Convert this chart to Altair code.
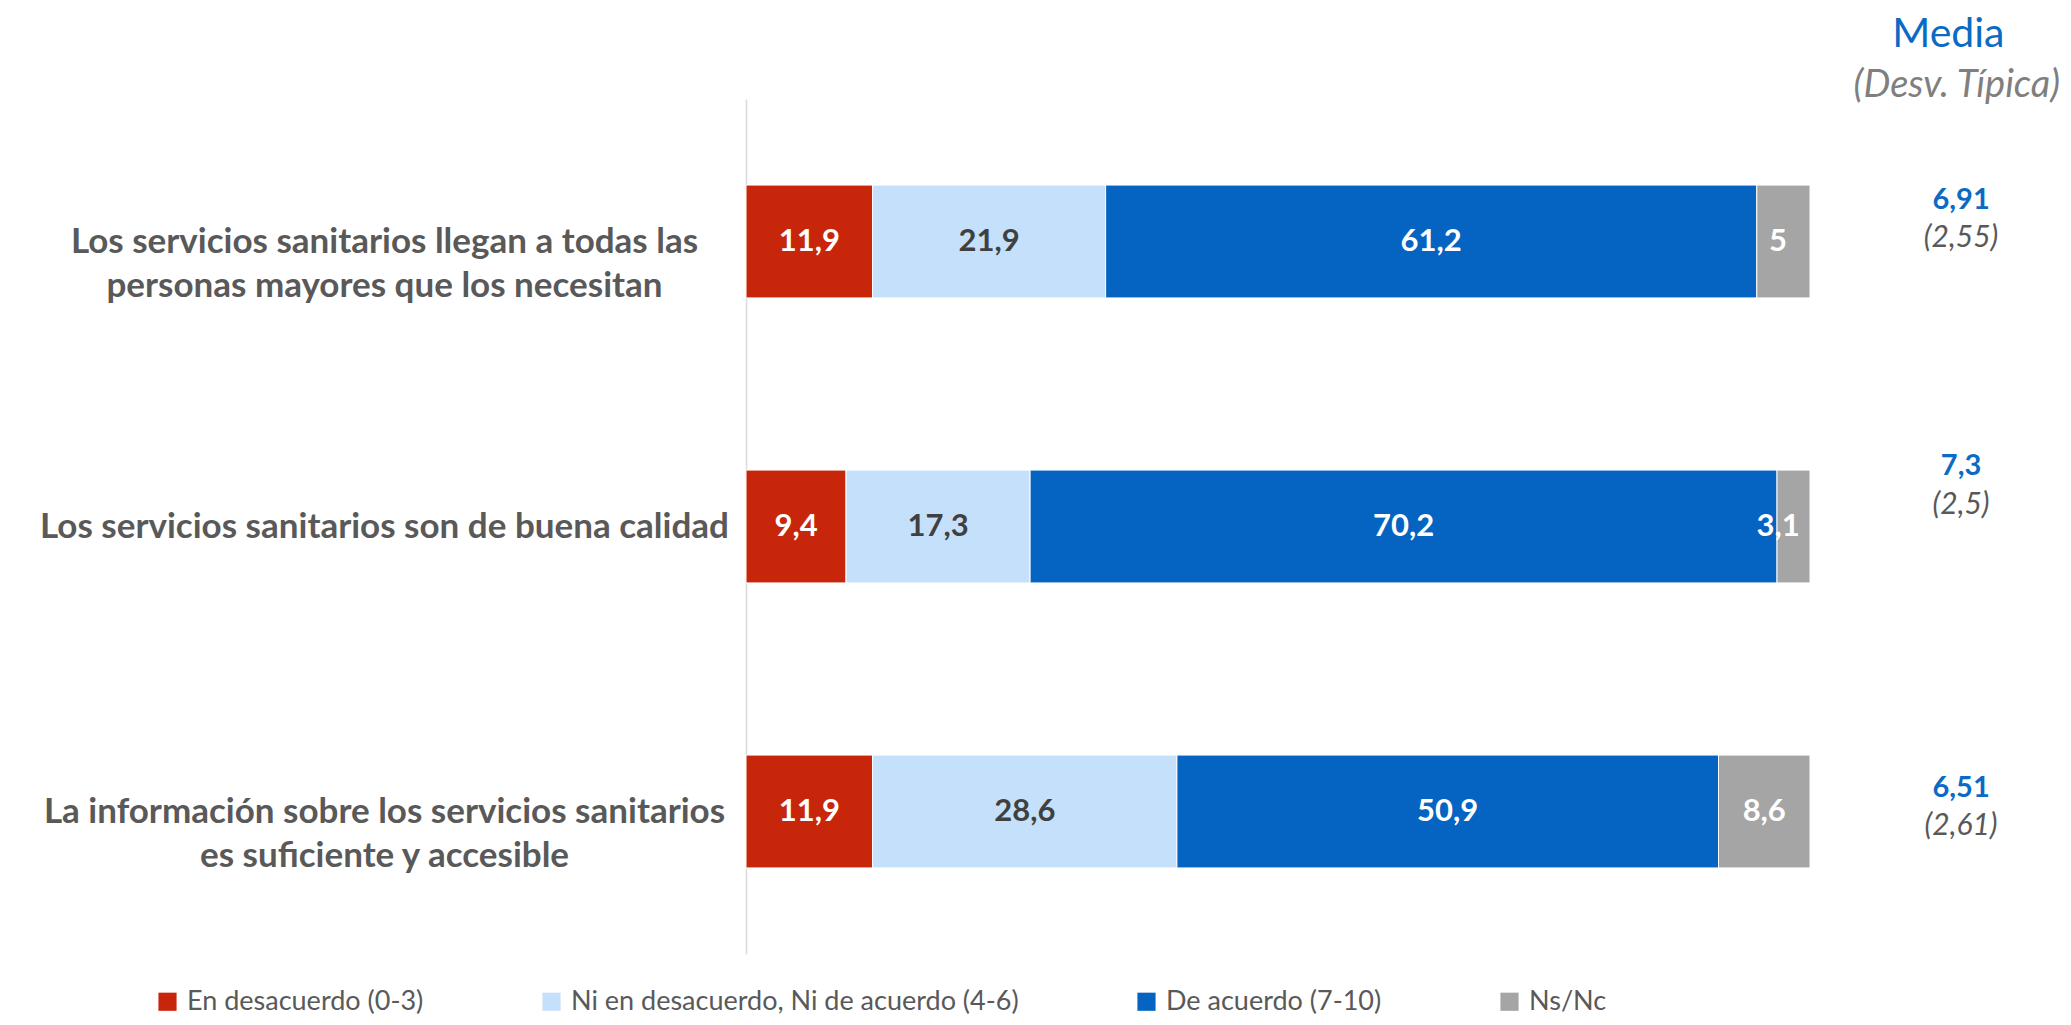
import altair as alt
import pandas as pd

categories = [
    "Los servicios sanitarios llegan a todas las|personas mayores  que los necesitan",
    "Los servicios  sanitarios son de buena calidad",
    "La información sobre los servicios sanitarios|es suficiente y accesible",
]
series = [
    "En desacuerdo (0-3)",
    "Ni en desacuerdo, Ni de acuerdo (4-6)",
    "De acuerdo (7-10)",
    "Ns/Nc",
]
desacuerdo = [11.9, 9.4, 11.9]
ni_ni = [21.9, 17.3, 28.6]
acuerdo = [61.2, 70.2, 50.9]
nsnc = [5.0, 3.1, 8.6]
medias = ["6,91", "7,3", "6,51"]
desviaciones = ["(2,55)", "(2,5)", "(2,61)"]
header = ["Media", "(Desv. Típica)"]
colors = ["#C8260A", "#C5E0FA", "#0563C1", "#A5A5A5"]


def fmt(v):
    return str(int(v)) if float(v).is_integer() else f"{v:.1f}".replace(".", ",")


rows = []
for i, cat in enumerate(categories):
    start = 0.0
    for j, vals in enumerate([desacuerdo, ni_ni, acuerdo, nsnc]):
        v = vals[i]
        rows.append(dict(cat=cat, series=series[j], order=j, value=v,
                         start=start, end=start + v, label=fmt(v)))
        start += v
df = pd.DataFrame(rows)
dm = pd.DataFrame(dict(cat=categories, media=medias, desv=desviaciones))
dh = pd.DataFrame(dict(cat=[categories[0]], h1=[header[0]], h2=[header[1]]))

FONT = "Lato"

y_enc = alt.Y(
    "cat:N",
    sort=categories,
    scale=alt.Scale(paddingInner=0.604, paddingOuter=0.302),
    axis=alt.Axis(
        title=None,
        ticks=False,
        domain=True,
        domainColor="#D9D9D9",
        domainWidth=1.5,
        labelExpr="split(datum.label, '|')",
        labelAlign="center",
        labelBaseline="middle",
        labelPadding=362,
        labelLineHeight=44,
        labelFont=FONT,
        labelFontWeight="bold",
        labelFontSize=35,
        labelColor="#595959",
        labelLimit=1000,
    ),
)
x_scale = alt.Scale(domain=[0, 100], nice=False, zero=True)
y_plain = alt.Y("cat:N", sort=categories)

bars = alt.Chart(df).mark_bar(stroke="white", strokeWidth=1).encode(
    x=alt.X("start:Q", scale=x_scale, axis=None),
    x2="end:Q",
    y=y_enc,
    color=alt.Color(
        "series:N",
        scale=alt.Scale(domain=series, range=colors),
        legend=alt.Legend(
            title=None,
            orient="none",
            legendX=-592,
            legendY=889,
            direction="horizontal",
            symbolType="square",
            symbolSize=330,
            symbolStrokeWidth=0,
            labelFont=FONT,
            labelFontSize=27,
            labelColor="#595959",
            labelOffset=6,
            columnPadding=114,
            labelLimit=1000,
        ),
    ),
    order=alt.Order("order:Q"),
)

labels = alt.Chart(df).transform_calculate(
    lx="min((datum.start + datum.end) / 2, 97.0)"
).mark_text(
    font=FONT, fontWeight="bold", fontSize=31, baseline="middle", align="center"
).encode(
    x=alt.X("lx:Q", scale=x_scale),
    y=y_plain,
    text="label:N",
    color=alt.condition(alt.datum.series == series[1], alt.value("#404040"), alt.value("white")),
)

mean_dy = [-42, -61, -24]
sd_dy = [-4, -22, 14]
layers = [bars, labels]
for i, cat in enumerate(categories):
    base = alt.Chart(dm).transform_filter(alt.datum.cat == cat)
    layers.append(
        base.mark_text(font=FONT, fontWeight="bold", fontSize=29, color="#0B6BC4",
                       baseline="middle", align="center", dy=mean_dy[i]).encode(
            x=alt.datum(114.2), y=y_plain, text="media:N")
    )
    layers.append(
        base.mark_text(font=FONT, fontStyle="italic", fontSize=30, color="#595959",
                       baseline="middle", align="center", dy=sd_dy[i]).encode(
            x=alt.datum(114.2), y=y_plain, text="desv:N")
    )

head1 = alt.Chart(dh).mark_text(
    font=FONT, fontSize=41, color="#0B6BC4", baseline="middle", align="center", dy=-207
).encode(x=alt.datum(113.0), y=y_plain, text="h1:N")
head2 = alt.Chart(dh).mark_text(
    font=FONT, fontSize=38, fontStyle="italic", color="#7F7F7F", baseline="middle",
    align="center", dy=-156
).encode(x=alt.datum(113.8), y=y_plain, text="h2:N")
layers += [head1, head2]

chart = alt.layer(*layers).properties(
    width=1064,
    height=855,
    autosize=alt.AutoSizeParams(type="none"),
    padding={"left": 738, "top": 91, "right": 253, "bottom": 63},
).configure_view(stroke=None)

chart.save("out.html", embed_options={"renderer": "svg", "actions": False})
